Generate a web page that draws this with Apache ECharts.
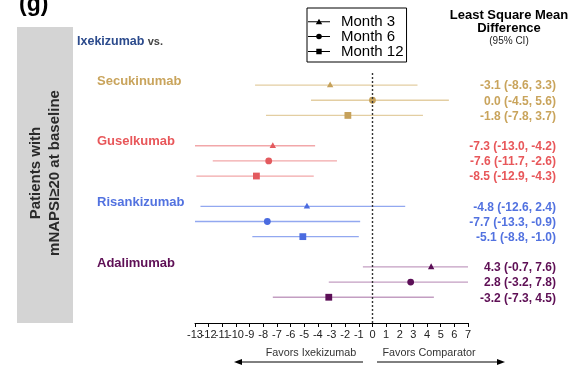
<!DOCTYPE html>
<html>
<head>
<meta charset="utf-8">
<script src="https://cdn.jsdelivr.net/npm/echarts@6/dist/echarts.min.js"></script>
<style>
  html, body { margin: 0; padding: 0; background: #fff; }
  #chart { width: 574px; height: 367px; }
</style>
</head>
<body>
<div id="chart"></div>
<script>
// Comparators and time points
const comparators = ['Secukinumab', 'Guselkumab', 'Risankizumab', 'Adalimumab'];
const months = ['Month 3', 'Month 6', 'Month 12'];

// Least square mean difference and 95% CI, one row per comparator, columns = months
const lsmDiff = [
  [-3.1, 0.0, -1.8],
  [-7.3, -7.6, -8.5],
  [-4.8, -7.7, -5.1],
  [4.3, 2.8, -3.2]
];
const ciLower = [
  [-8.6, -4.5, -7.8],
  [-13.0, -11.7, -12.9],
  [-12.6, -13.3, -8.8],
  [-0.7, -3.2, -7.3]
];
const ciUpper = [
  [3.3, 5.6, 3.7],
  [-4.2, -2.6, -4.3],
  [2.4, -0.9, -1.0],
  [7.6, 7.8, 4.5]
];

// x-axis tick labels (every integer, crowded like the printed scale)
const xTicks = [-13, -12, -11, -10, -9, -8, -7, -6, -5, -4, -3, -2, -1, 0, 1, 2, 3, 4, 5, 6, 7];

// Axis range
const X_MIN = -13, X_MAX = 7;
const Y_MIN = -0.8, Y_MAX = 15.7;

// Styling
const FONT = 'Liberation Sans, Arial, Helvetica, sans-serif';
const textColors = ['#c9a45c', '#e8575a', '#5272e0', '#5e0f55'];
const markColors = ['#c6a15a', '#e35a5e', '#4a6be0', '#5c0f57'];
const lineColors = ['#e3cea2', '#f2a7a9', '#92a8f0', '#c39ec2'];
const symbols = ['triangle', 'circle', 'square'];
const legendIcons = [
  'path://M0,2.5H22V3.5H0Z M11,0L14.2,5.5H7.8Z',
  'path://M0,2.5H22V3.5H0Z M8.2,3A2.8,2.8,0,1,1,13.8,3A2.8,2.8,0,1,1,8.2,3Z',
  'path://M0,2.5H22V3.5H0Z M8.3,0.2H13.7V5.6H8.3Z'
];

const fmt = v => v.toFixed(1);

function renderItem(params, api) {
  const lo = api.value(0), hi = api.value(1), est = api.value(2);
  const row = api.value(3), g = api.value(4);
  const m = params.seriesIndex;
  const pLo = api.coord([Math.max(lo, X_MIN), row]);
  const pHi = api.coord([Math.min(hi, X_MAX), row]);
  const pE = api.coord([est, row]);
  const rightEdge = api.coord([X_MAX, row])[0];
  const leftEdge = api.coord([X_MIN, row])[0];
  const children = [{
    type: 'line',
    shape: { x1: pLo[0], y1: pLo[1], x2: pHi[0], y2: pHi[1] },
    style: { stroke: lineColors[g], lineWidth: 1.3 }
  }];
  const c = markColors[g];
  if (symbols[m] === 'triangle') {
    children.push({ type: 'polygon', shape: { points: [[pE[0], pE[1] - 3.6], [pE[0] + 3.2, pE[1] + 2.2], [pE[0] - 3.2, pE[1] + 2.2]] }, style: { fill: c } });
  } else if (symbols[m] === 'circle') {
    children.push({ type: 'circle', shape: { cx: pE[0], cy: pE[1], r: 3.4 }, style: { fill: c } });
  } else {
    children.push({ type: 'rect', shape: { x: pE[0] - 3.4, y: pE[1] - 3.4, width: 6.8, height: 6.8 }, style: { fill: c } });
  }
  children.push({
    type: 'text',
    style: {
      x: rightEdge + 88, y: pE[1] + 1,
      text: fmt(est) + ' (' + fmt(lo) + ', ' + fmt(hi) + ')',
      align: 'right', verticalAlign: 'middle',
      font: 'bold 12px ' + FONT, fill: textColors[g]
    }
  });
  if (m === 0) {
    children.push({
      type: 'text',
      style: {
        x: leftEdge - 98, y: pE[1] - 4,
        text: comparators[g],
        align: 'left', verticalAlign: 'middle',
        font: 'bold 13px ' + FONT, fill: textColors[g]
      }
    });
  }
  return { type: 'group', children };
}

// Tick labels placed through the x scale, all shown even where they touch
function renderTickLabel(params, api) {
  const p = api.coord([api.value(0), Y_MAX]);
  return {
    type: 'text',
    style: {
      x: p[0], y: p[1] + 6,
      text: String(api.value(0)),
      align: 'center', verticalAlign: 'top',
      font: '11px ' + FONT, fill: '#222'
    }
  };
}

const series = months.map((name, m) => ({
  name,
  type: 'custom',
  renderItem,
  encode: { x: [0, 1, 2], y: 3 },
  itemStyle: { color: '#000' },
  data: comparators.map((_, g) => [ciLower[g][m], ciUpper[g][m], lsmDiff[g][m], g * 4 + m, g]),
  markLine: m === 0 ? {
    silent: true,
    symbol: 'none',
    label: { show: false },
    lineStyle: { color: '#333', type: [2, 2], width: 1.4 },
    data: [{ xAxis: 0 }]
  } : undefined,
  z: 3
}));

series.push({
  name: 'ticks',
  type: 'custom',
  renderItem: renderTickLabel,
  encode: { x: 0 },
  clip: false,
  silent: true,
  data: xTicks.map(v => [v])
});

const chart = echarts.init(document.getElementById('chart'), null, { renderer: 'canvas' });
chart.setOption({
  animation: false,
  textStyle: { fontFamily: FONT },
  grid: { left: 195, right: 106, top: 73, bottom: 44 },
  xAxis: {
    type: 'value', min: X_MIN, max: X_MAX, interval: 1,
    axisLine: { show: true, onZero: false, lineStyle: { color: '#000', width: 1 } },
    axisTick: { show: true, length: 4, lineStyle: { color: '#000' } },
    axisLabel: { show: false },
    splitLine: { show: false }
  },
  yAxis: {
    type: 'value', inverse: true, min: Y_MIN, max: Y_MAX, show: false,
    splitLine: { show: false }
  },
  legend: {
    orient: 'vertical', left: 307, top: 8,
    data: months.map((name, i) => ({ name, icon: legendIcons[i] })),
    itemWidth: 22, itemHeight: 6, itemGap: 0,
    itemStyle: { color: '#000' },
    textStyle: { fontSize: 15, color: '#000', lineHeight: 13.5, fontFamily: FONT, padding: [0, 0, 0, 6] },
    borderColor: '#000', borderWidth: 1, padding: [6, 3, 3, 1],
    selectedMode: false
  },
  graphic: [
    { type: 'text', left: 19, top: -7, style: { text: '(g)', font: 'bold 23px ' + FONT, fill: '#000' } },
    { type: 'rect', shape: { x: 17, y: 27, width: 56, height: 296 }, style: { fill: '#d4d4d4' } },
    {
      type: 'text', x: 45.5, y: 173, rotation: Math.PI / 2,
      style: {
        text: 'Patients with\nmNAPSI≥20 at baseline', align: 'center', verticalAlign: 'middle',
        font: 'bold 15px ' + FONT, lineHeight: 19, fill: '#2a2a2a'
      }
    },
    {
      type: 'text', x: 77, y: 42,
      style: {
        text: '{a|Ixekizumab} {b|vs.}', verticalAlign: 'middle',
        rich: {
          a: { font: 'bold 12.5px ' + FONT, fill: '#2b4a8c' },
          b: { font: 'bold 11px ' + FONT, fill: '#444' }
        }
      }
    },
    { type: 'text', x: 509, y: 15, style: { text: 'Least Square Mean', align: 'center', verticalAlign: 'middle', font: 'bold 13px ' + FONT, fill: '#000' } },
    { type: 'text', x: 509, y: 28, style: { text: 'Difference', align: 'center', verticalAlign: 'middle', font: 'bold 13px ' + FONT, fill: '#000' } },
    { type: 'text', x: 509, y: 41, style: { text: '(95% CI)', align: 'center', verticalAlign: 'middle', font: '10px ' + FONT, fill: '#222' } },
    { type: 'text', x: 311, y: 353, style: { text: 'Favors Ixekizumab', align: 'center', verticalAlign: 'middle', font: '10.8px ' + FONT, fill: '#333' } },
    { type: 'text', x: 429, y: 353, style: { text: 'Favors Comparator', align: 'center', verticalAlign: 'middle', font: '10.8px ' + FONT, fill: '#333' } },
    { type: 'line', shape: { x1: 240, y1: 362, x2: 363, y2: 362 }, style: { stroke: '#000', lineWidth: 1 } },
    { type: 'polygon', shape: { points: [[234, 362], [242, 359], [242, 365]] }, style: { fill: '#000' } },
    { type: 'line', shape: { x1: 377, y1: 362, x2: 499, y2: 362 }, style: { stroke: '#000', lineWidth: 1 } },
    { type: 'polygon', shape: { points: [[505, 362], [497, 359], [497, 365]] }, style: { fill: '#000' } }
  ],
  series
});
</script>
</body>
</html>
